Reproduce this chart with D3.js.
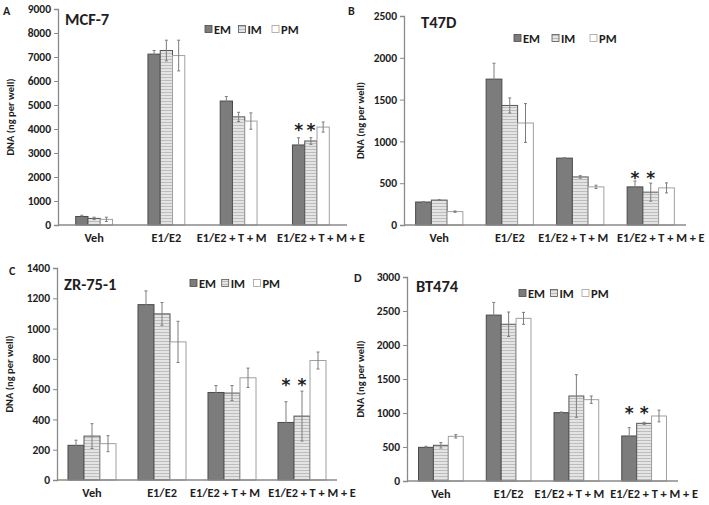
<!DOCTYPE html>
<html><head><meta charset="utf-8">
<script src="https://cdn.jsdelivr.net/npm/d3@7"></script>
<style>
body{margin:0;background:#fff;}
svg{display:block;font-family:Carlito,Lato,"Open Sans",sans-serif;}
</style></head>
<body><svg id="c" width="709" height="505"></svg>
<script>
// ---- data ----
const categories = ["Veh", "E1/E2", "E1/E2 + T + M", "E1/E2 + T + M + E"];
const series = ["EM", "IM", "PM"];

const mcf7EM = [355, 7120, 5165, 3335], mcf7EMErr = [50, 150, 190, 300];
const mcf7IM = [275, 7270, 4505, 3500], mcf7IMErr = [50, 430, 190, 140];
const mcf7PM = [235, 7060, 4330, 4080], mcf7PMErr = [90, 640, 340, 210];
const mcf7Ticks = [0, 1000, 2000, 3000, 4000, 5000, 6000, 7000, 8000, 9000];

const t47dEM = [275, 1745, 800, 456], t47dEMErr = [6, 190, 6, 70];
const t47dIM = [298, 1430, 575, 393], t47dIMErr = [5, 90, 15, 108];
const t47dPM = [160, 1220, 456, 444], t47dPMErr = [8, 232, 20, 60];
const t47dTicks = [0, 500, 1000, 1500, 2000, 2500];

const zrEM = [229, 1158, 578, 380], zrEMErr = [34, 91, 46, 137];
const zrIM = [290, 1097, 574, 422], zrIMErr = [82, 75, 50, 165];
const zrPM = [240, 912, 675, 789], zrPMErr = [53, 136, 64, 56];
const zrTicks = [0, 200, 400, 600, 800, 1000, 1200, 1400];

const btEM = [495, 2440, 1005, 662], btEMErr = [15, 186, 10, 122];
const btIM = [525, 2305, 1250, 848], btIMErr = [40, 180, 314, 15];
const btPM = [657, 2392, 1196, 956], btPMErr = [25, 88, 54, 86];
const btTicks = [0, 500, 1000, 1500, 2000, 2500, 3000];

// significance markers (* over EM and IM of last group), value level of the asterisk
const sigLevels = [4040, 590, 640, 1030];
const sigCategory = "E1/E2 + T + M + E";
const sigSeries = ["EM", "IM"];

// ---- layout ----
const labelShift = {"Veh":0, "E1/E2":0, "E1/E2 + T + M":-7, "E1/E2 + T + M + E":10};
const panels = [
  {letter:"A", title:"MCF-7", vals:[mcf7EM,mcf7IM,mcf7PM], errs:[mcf7EMErr,mcf7IMErr,mcf7PMErr], ticks:mcf7Ticks, sig:sigLevels[0],
   x0:58, x1:347, yb:225, yt:9, inner:0.51, letterPos:[3,15], titlePos:[65,25], ytitleX:14, legX:205, legY:29, legStep:33.5},
  {letter:"B", title:"T47D", vals:[t47dEM,t47dIM,t47dPM], errs:[t47dEMErr,t47dIMErr,t47dPMErr], ticks:t47dTicks, sig:sigLevels[1],
   x0:404, x1:686, yb:225, yt:16, inner:0.67, letterPos:[348,15], titlePos:[421,28], ytitleX:364, legX:514, legY:38, legStep:38},
  {letter:"C", title:"ZR-75-1", vals:[zrEM,zrIM,zrPM], errs:[zrEMErr,zrIMErr,zrPMErr], ticks:zrTicks, sig:sigLevels[2],
   x0:57, x1:337, yb:480, yt:268, inner:0.686, letterPos:[9,275], titlePos:[64,290], ytitleX:13, legX:190, legY:283, legStep:31.7},
  {letter:"D", title:"BT474", vals:[btEM,btIM,btPM], errs:[btEMErr,btIMErr,btPMErr], ticks:btTicks, sig:sigLevels[3],
   x0:407, x1:678, yb:481, yt:277, inner:0.66, letterPos:[354,282], titlePos:[416,292], ytitleX:364, legX:519, legY:293, legStep:31.5}
];

const svg = d3.select("#c");
const defs = svg.append("defs");
const pat = defs.append("pattern").attr("id","stripe").attr("patternUnits","userSpaceOnUse")
  .attr("width",4).attr("height",3);
pat.append("rect").attr("width",4).attr("height",3).attr("fill","#e4e4e4");
pat.append("rect").attr("y",2).attr("width",4).attr("height",1).attr("fill","#bdbdbd");

const fills = {EM:"#7c7c7c", IM:"url(#stripe)", PM:"#ffffff"};
const strokes = {EM:"#4a4a4a", IM:"#555555", PM:"#a0a0a0"};
const axisColor = "#8a8a8a";
const txt = "#1e1e1e";

panels.forEach(p => {
  const g = svg.append("g");
  const ymax = p.ticks[p.ticks.length-1];
  const y = d3.scaleLinear().domain([0, ymax]).range([p.yb, p.yt]);
  const x = d3.scaleBand().domain(categories).range([p.x0, p.x1]).paddingInner(1-p.inner).paddingOuter((1-p.inner)/2);
  const xs = d3.scaleBand().domain(series).range([0, x.bandwidth()]);

  // y axis
  const ya = g.append("g").attr("transform",`translate(${p.x0},0)`)
    .call(d3.axisLeft(y).tickValues(p.ticks).tickSize(4).tickPadding(3).tickFormat(d3.format("d")));
  ya.select(".domain").attr("stroke",axisColor).attr("stroke-width",1.3);
  ya.selectAll(".tick line").attr("stroke",axisColor);
  ya.selectAll("text").attr("font-family","Carlito,Lato,sans-serif").attr("font-size",11.5)
    .attr("font-weight","bold").attr("fill",txt);

  // bars
  series.forEach((s, si) => {
    categories.forEach((c, ci) => {
      const v = p.vals[si][ci];
      g.append("rect").attr("x", x(c)+xs(s)).attr("y", y(v))
        .attr("width", xs.bandwidth()).attr("height", y(0)-y(v))
        .attr("fill", fills[s]).attr("stroke", strokes[s]).attr("stroke-width",1);
    });
  });
  // error bars
  series.forEach((s, si) => {
    categories.forEach((c, ci) => {
      const v = p.vals[si][ci], e = p.errs[si][ci];
      const cx = x(c)+xs(s)+xs.bandwidth()/2;
      const eg = g.append("g").attr("stroke","#7d7d7d").attr("stroke-width",1);
      eg.append("line").attr("x1",cx).attr("x2",cx).attr("y1",y(v+e)).attr("y2",y(Math.max(0,v-e)));
      eg.append("line").attr("x1",cx-1.5).attr("x2",cx+1.5).attr("y1",y(v+e)).attr("y2",y(v+e));
      eg.append("line").attr("x1",cx-1.5).attr("x2",cx+1.5).attr("y1",y(Math.max(0,v-e))).attr("y2",y(Math.max(0,v-e)));
    });
  });

  // x axis line
  g.append("line").attr("x1",p.x0).attr("x2",p.x1).attr("y1",y(0)).attr("y2",y(0))
    .attr("stroke",axisColor).attr("stroke-width",1.5);
  const xa = g.append("g").attr("transform",`translate(0,${y(0)})`)
    .call(d3.axisBottom(x).tickSize(0).tickPadding(8));
  xa.select(".domain").remove();
  xa.selectAll("text").attr("font-family","Carlito,Lato,sans-serif").attr("font-size",12.3)
    .attr("font-weight","bold").attr("fill",txt).attr("dx", d => labelShift[d]);

  // significance asterisks
  sigSeries.forEach(s => {
    g.append("text").attr("x", x(sigCategory)+xs(s)+xs.bandwidth()/2).attr("y", y(p.sig)+8)
      .attr("text-anchor","middle").attr("font-size",17).attr("font-weight","bold").attr("fill",txt)
      .attr("font-family","DejaVu Sans, sans-serif").text("*");
  });

  // titles
  g.append("text").attr("x",p.titlePos[0]).attr("y",p.titlePos[1]).attr("font-size",16.5)
    .attr("font-weight","bold").attr("fill",txt).text(p.title);
  g.append("text").attr("x",p.letterPos[0]).attr("y",p.letterPos[1]).attr("font-size",12)
    .attr("font-weight","bold").attr("fill",txt).text(p.letter);
  g.append("text").attr("transform",`translate(${p.ytitleX},${(p.yb+p.yt)/2}) rotate(-90)`)
    .attr("text-anchor","middle").attr("font-size",10.5).attr("font-weight","bold").attr("fill",txt)
    .text("DNA (ng per well)");

  // legend
  series.forEach((s, i) => {
    const lx = p.legX + i*p.legStep;
    g.append("rect").attr("x",lx).attr("y",p.legY-3.5).attr("width",7).attr("height",7)
      .attr("fill",fills[s]).attr("stroke",strokes[s]).attr("stroke-width",0.8);
    g.append("text").attr("x",lx+9).attr("y",p.legY+4.5).attr("font-size",12.5).attr("font-weight","bold")
      .attr("fill",txt).text(s);
  });
});
</script></body></html>
